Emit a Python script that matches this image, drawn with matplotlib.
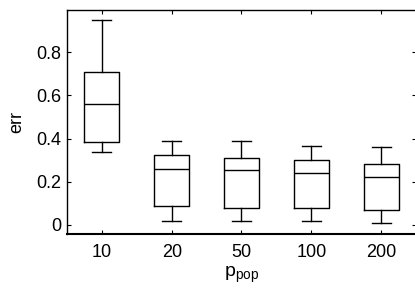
import matplotlib
matplotlib.use("Agg")
import matplotlib.pyplot as plt

plt.rcParams["font.family"] = ["Liberation Sans", "DejaVu Sans"]
plt.rcParams["mathtext.default"] = "regular"
plt.rcParams["font.size"] = 13

# box statistics
labels = ["10", "20", "50", "100", "200"]
whislo = [0.339, 0.017, 0.017, 0.017, 0.009]
q1 = [0.384, 0.088, 0.077, 0.077, 0.071]
med = [0.559, 0.261, 0.256, 0.239, 0.222]
q3 = [0.710, 0.323, 0.312, 0.299, 0.284]
whishi = [0.949, 0.390, 0.390, 0.367, 0.363]

stats = []
for i in range(len(labels)):
    stats.append({"label": labels[i], "whislo": whislo[i], "q1": q1[i],
                  "med": med[i], "q3": q3[i], "whishi": whishi[i], "fliers": []})

fig = plt.figure(figsize=(4.15, 2.95), dpi=100)
ax = fig.add_axes([67/415, 1 - 234/295, 349/415, 224/295])

lp = dict(color="black", linewidth=1)
ax.bxp(stats, widths=0.5, showfliers=False,
       boxprops=lp, whiskerprops=lp, capprops=lp, medianprops=lp,
       capwidths=0.27)

ax.set_xlim(0.5, 5.5)
ax.set_ylim(-0.042, 0.995)
ax.set_yticks([0, 0.2, 0.4, 0.6, 0.8])
ax.set_yticklabels(["0", "0.2", "0.4", "0.6", "0.8"])
ax.tick_params(direction="in", length=3, top=True, right=True)
ax.tick_params(axis="y", pad=4)
ax.tick_params(axis="x", pad=7)
for s in ax.spines.values():
    s.set_linewidth(1)
ax.spines["bottom"].set_linewidth(1.5)

ax.set_xlabel("p$_{pop}$", labelpad=3, fontsize=14)
ax.set_ylabel("err", labelpad=8)

fig.savefig("out.png", dpi=100)
